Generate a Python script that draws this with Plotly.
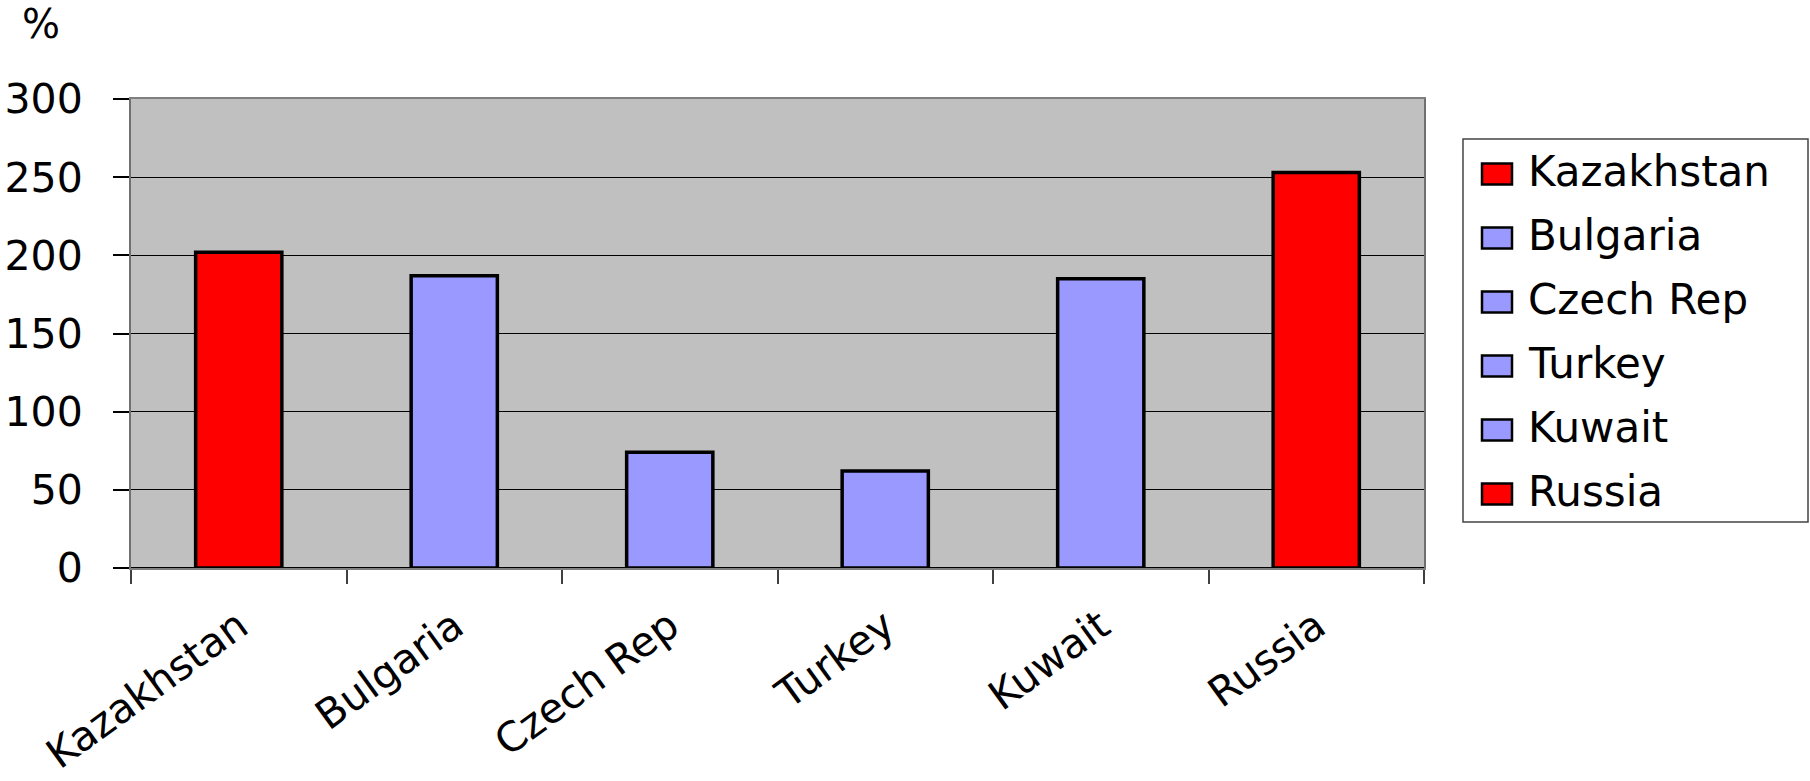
import plotly.graph_objects as go

# Data
COUNTRIES = ["Kazakhstan", "Bulgaria", "Czech Rep", "Turkey", "Kuwait", "Russia"]
VALUES = [202, 187, 74, 62, 185, 253]
COLORS = ["#FF0000", "#9999FF", "#9999FF", "#9999FF", "#9999FF", "#FF0000"]
Y_TICKS = [0, 50, 100, 150, 200, 250, 300]
UNIT_LABEL = "%"

# Canvas and plot-area geometry (pixels)
W, H = 1810, 781
L, R, T, B = 131, 386, 99, 213
PW = W - L - R
PH = H - T - B
FONT = "DejaVu Sans"


def px_x(x):
    return (x - L) / PW


def px_y(y):
    return (H - B - y) / PH


fig = go.Figure()
for name, val, col in zip(COUNTRIES, VALUES, COLORS):
    fig.add_trace(go.Bar(
        x=[name], y=[val], name=name, width=0.4,
        marker=dict(color=col, line=dict(color="black", width=3.5)),
        showlegend=False,
    ))

fig.update_layout(
    width=W, height=H,
    margin=dict(l=L, r=R, t=T, b=B, pad=0),
    barmode="overlay",
    plot_bgcolor="#C0C0C0", paper_bgcolor="white",
    font=dict(family=FONT, size=40, color="black"),
)

fig.update_xaxes(
    categoryorder="array", categoryarray=COUNTRIES,
    tickson="boundaries", ticks="outside", ticklen=14,
    tickcolor="#404040", tickwidth=1.5, tickangle=-36,
    tickfont=dict(size=41),
    ticklabelstandoff=16,
    showline=True, linecolor="#808080", linewidth=2, mirror=True,
    showgrid=False, automargin=False,
)
fig.update_yaxes(
    range=[0, 300], tickvals=Y_TICKS, ticks="outside", ticklen=16,
    tickcolor="black", tickwidth=1.5, ticklabelstandoff=22,
    tickfont=dict(size=41),
    showgrid=True, gridcolor="black", gridwidth=1,
    showline=True, linecolor="#707070", linewidth=2, mirror=True,
    zeroline=True, zerolinecolor="black", zerolinewidth=2,
    automargin=False,
)

# Unit label above the y axis
fig.add_annotation(
    text=UNIT_LABEL, xref="paper", yref="paper",
    x=px_x(41), y=px_y(24), xanchor="center", yanchor="middle",
    showarrow=False, font=dict(family=FONT, size=40),
)

# Legend panel
LEG_X0, LEG_X1, LEG_Y0, LEG_Y1 = 1463, 1808, 139, 522
ROW0, ROW_STEP = 171, 64
SW_X0, SW_X1, SW_H = 1482, 1512, 21
TXT_X = 1526

fig.add_shape(
    type="rect", xref="paper", yref="paper",
    x0=px_x(LEG_X0), x1=px_x(LEG_X1), y0=px_y(LEG_Y1), y1=px_y(LEG_Y0),
    line=dict(color="#444444", width=1.5), fillcolor="white", layer="below",
)
for i, (name, col) in enumerate(zip(COUNTRIES, COLORS)):
    yc = ROW0 + i * ROW_STEP
    fig.add_shape(
        type="rect", xref="paper", yref="paper",
        x0=px_x(SW_X0), x1=px_x(SW_X1),
        y0=px_y(yc + 3 + SW_H / 2), y1=px_y(yc + 3 - SW_H / 2),
        line=dict(color="black", width=2.5), fillcolor=col,
    )
    fig.add_annotation(
        text=name, xref="paper", yref="paper",
        x=px_x(TXT_X), y=px_y(yc), xanchor="left", yanchor="middle",
        showarrow=False, font=dict(family=FONT, size=42),
    )

fig.write_html("out.html")
